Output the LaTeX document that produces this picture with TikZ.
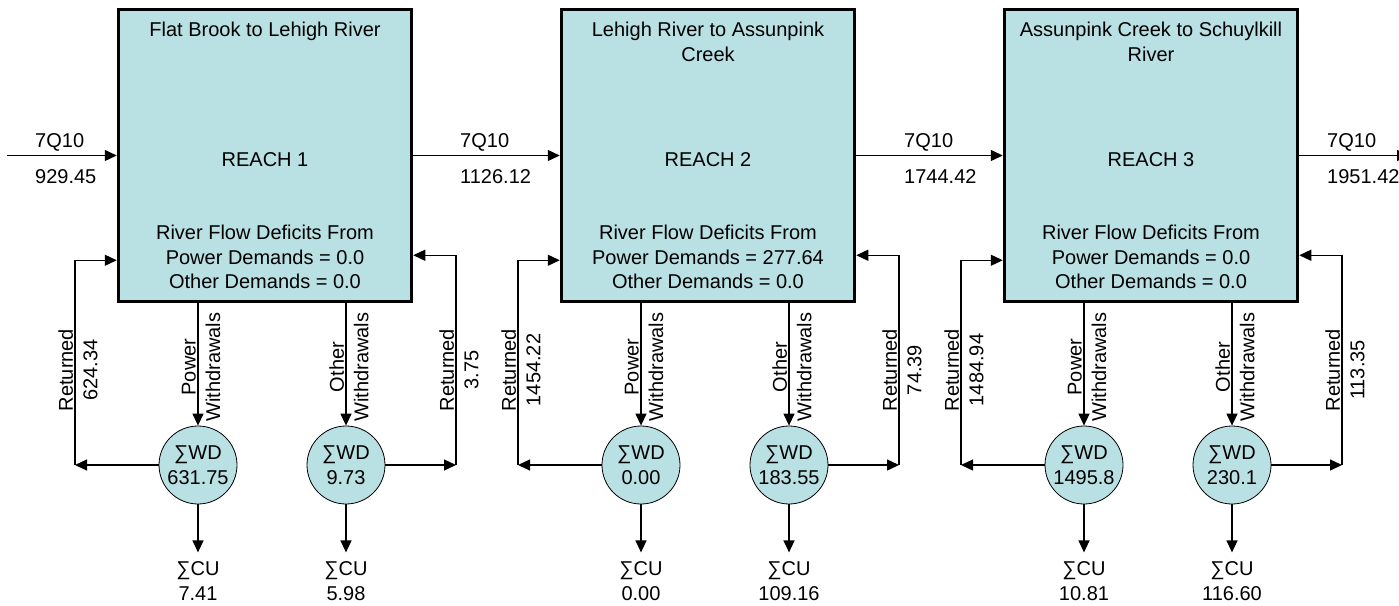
\documentclass[tikz,border=0pt]{standalone}
\usepackage{fontspec}
\setmainfont{Liberation Sans}
\usetikzlibrary{arrows.meta,positioning}
\definecolor{pale}{HTML}{B9E0E3}

\begin{document}
\begin{tikzpicture}[x=1pt, y=-1pt,
    every node/.style={font=\fontsize{20}{24.5}\selectfont, inner sep=0pt},
    reach/.style={rectangle, draw, line width=3.5pt, fill=pale,
        minimum width=293pt, minimum height=292pt},
    sumnode/.style={circle, draw, line width=0.8pt, fill=pale,
        minimum size=78pt, align=center},
    vlabel/.style={rotate=90, align=center},
    culabel/.style={align=center, inner ysep=9pt},
    flow/.style={-{Triangle[length=12pt, width=11pt]}, line width=1.3pt},
]
\useasboundingbox (0,0) rectangle (1399,605);

% Reach boxes
\node[reach] (reach1) at (265,155.5) {};
\node[reach] (reach2) at (708,155.5) {};
\node[reach] (reach3) at (1151,155.5) {};

% Box texts
\node[below=14.5pt of reach1.north, align=center] (title1) {Flat Brook to Lehigh River};
\node[below=14.5pt of reach2.north, align=center] (title2) {Lehigh River to Assunpink\\Creek};
\node[below=14.5pt of reach3.north, align=center] (title3) {Assunpink Creek to Schuylkill\\River};
\node (name1) at ([yshift=-4pt]reach1.center) {REACH 1};
\node (name2) at ([yshift=-4pt]reach2.center) {REACH 2};
\node (name3) at ([yshift=-4pt]reach3.center) {REACH 3};
\node[above=14pt of reach1.south, align=center] (deficit1)
    {River Flow Deficits From\\Power Demands = 0.0\\Other Demands = 0.0};
\node[above=14pt of reach2.south, align=center] (deficit2)
    {River Flow Deficits From\\Power Demands = 277.64\\Other Demands = 0.0};
\node[above=14pt of reach3.south, align=center] (deficit3)
    {River Flow Deficits From\\Power Demands = 0.0\\Other Demands = 0.0};

% River flow along the reaches
\coordinate (source) at (7,155.5);
\coordinate (sink) at (1409,155.5);
\draw[flow] (source) -- (reach1.west);
\draw[flow] (reach1.east) -- (reach2.west);
\draw[flow] (reach2.east) -- (reach3.west);
\draw[flow] (reach3.east) -- (sink);
\node[anchor=west] (q0) at (35,142) {7Q10};
\node[anchor=west] (f0) at (35,177) {929.45};
\node[anchor=west] (q1) at (460,142) {7Q10};
\node[anchor=west] (f1) at (460,177) {1126.12};
\node[anchor=west] (q2) at (904,142) {7Q10};
\node[anchor=west] (f2) at (904,177) {1744.42};
\node[anchor=west] (q3) at (1327,142) {7Q10};
\node[anchor=west] (f3) at (1327,177) {1951.42};

% Reach 1 withdrawals
\node[sumnode] (pw1) at (198,465) {∑WD\\631.75};
\node[sumnode] (ow1) at (346,465) {∑WD\\9.73};
\draw[flow] (reach1.south -| pw1) -- (pw1);
\draw[flow] (reach1.south -| ow1) -- (ow1);
\node[vlabel] at (201,367) {Power\\Withdrawals};
\node[vlabel] at (349,367) {Other\\Withdrawals};
\coordinate (ret1a) at (75,465);
\coordinate (ret1b) at (456,465);
\draw[flow] (pw1) -- (ret1a);
\draw[flow] (ret1a) |- ([yshift=43pt]reach1.south west);
\draw[flow] (ow1) -- (ret1b);
\draw[flow] (ret1b) |- ([yshift=48pt]reach1.south east);
\node[vlabel] at (78,370) {Returned\\624.34};
\node[vlabel] at (459,370) {Returned\\3.75};
\node[culabel, below=48pt of pw1] (cu1a) {∑CU\\7.41};
\node[culabel, below=48pt of ow1] (cu1b) {∑CU\\5.98};
\draw[flow] (pw1) -- (cu1a);
\draw[flow] (ow1) -- (cu1b);

% Reach 2 withdrawals
\node[sumnode] (pw2) at (641,465) {∑WD\\0.00};
\node[sumnode] (ow2) at (789,465) {∑WD\\183.55};
\draw[flow] (reach2.south -| pw2) -- (pw2);
\draw[flow] (reach2.south -| ow2) -- (ow2);
\node[vlabel] at (644,367) {Power\\Withdrawals};
\node[vlabel] at (792,367) {Other\\Withdrawals};
\coordinate (ret2a) at (518,465);
\coordinate (ret2b) at (899,465);
\draw[flow] (pw2) -- (ret2a);
\draw[flow] (ret2a) |- ([yshift=43pt]reach2.south west);
\draw[flow] (ow2) -- (ret2b);
\draw[flow] (ret2b) |- ([yshift=48pt]reach2.south east);
\node[vlabel] at (521,370) {Returned\\1454.22};
\node[vlabel] at (902,370) {Returned\\74.39};
\node[culabel, below=48pt of pw2] (cu2a) {∑CU\\0.00};
\node[culabel, below=48pt of ow2] (cu2b) {∑CU\\109.16};
\draw[flow] (pw2) -- (cu2a);
\draw[flow] (ow2) -- (cu2b);

% Reach 3 withdrawals
\node[sumnode] (pw3) at (1084,465) {∑WD\\1495.8};
\node[sumnode] (ow3) at (1232,465) {∑WD\\230.1};
\draw[flow] (reach3.south -| pw3) -- (pw3);
\draw[flow] (reach3.south -| ow3) -- (ow3);
\node[vlabel] at (1087,367) {Power\\Withdrawals};
\node[vlabel] at (1235,367) {Other\\Withdrawals};
\coordinate (ret3a) at (961,465);
\coordinate (ret3b) at (1342,465);
\draw[flow] (pw3) -- (ret3a);
\draw[flow] (ret3a) |- ([yshift=43pt]reach3.south west);
\draw[flow] (ow3) -- (ret3b);
\draw[flow] (ret3b) |- ([yshift=48pt]reach3.south east);
\node[vlabel] at (964,370) {Returned\\1484.94};
\node[vlabel] at (1345,370) {Returned\\113.35};
\node[culabel, below=48pt of pw3] (cu3a) {∑CU\\10.81};
\node[culabel, below=48pt of ow3] (cu3b) {∑CU\\116.60};
\draw[flow] (pw3) -- (cu3a);
\draw[flow] (ow3) -- (cu3b);
\end{tikzpicture}
\end{document}
